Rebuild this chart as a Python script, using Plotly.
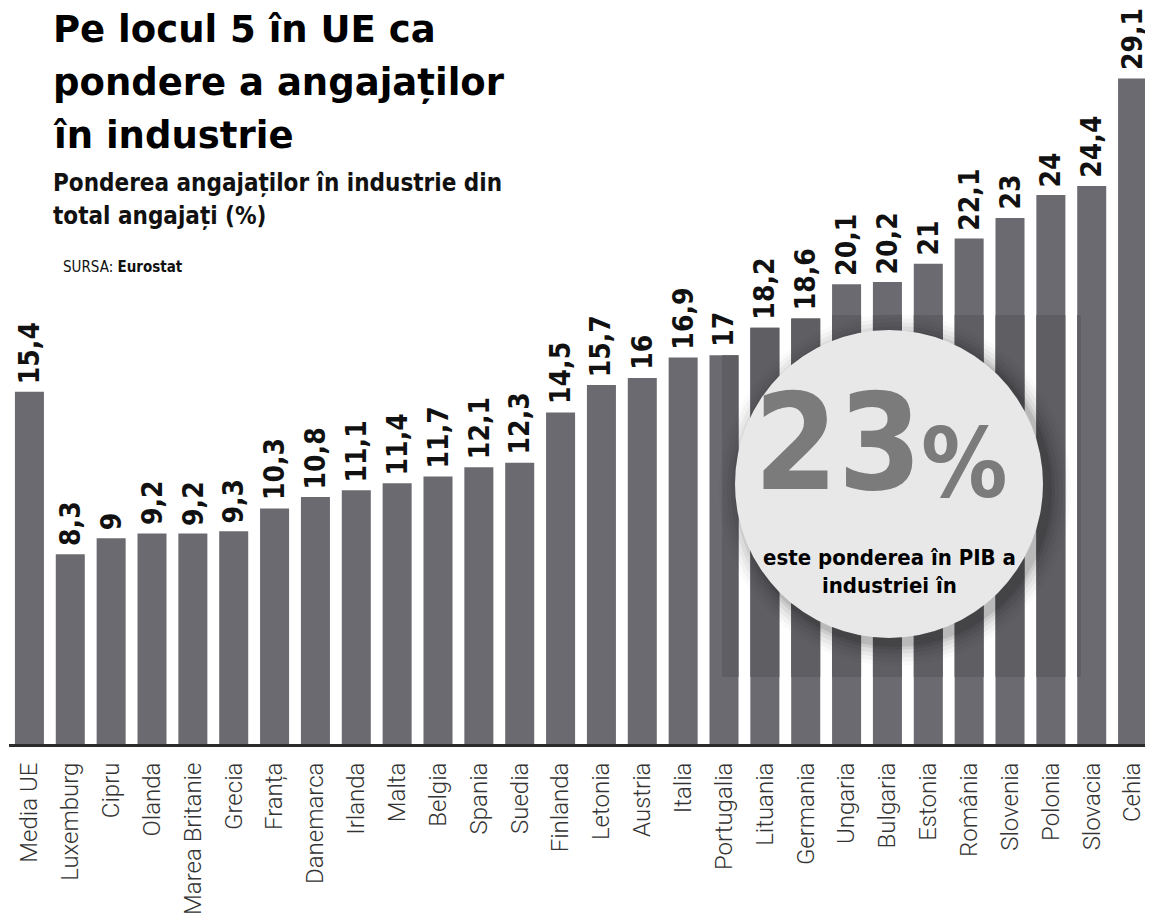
import plotly.graph_objects as go

countries = ["Media UE", "Luxemburg", "Cipru", "Olanda", "Marea Britanie", "Grecia", "Franța",
             "Danemarca", "Irlanda", "Malta", "Belgia", "Spania", "Suedia", "Finlanda", "Letonia",
             "Austria", "Italia", "Portugalia", "Lituania", "Germania", "Ungaria", "Bulgaria",
             "Estonia", "România", "Slovenia", "Polonia", "Slovacia", "Cehia"]
values = [15.4, 8.3, 9, 9.2, 9.2, 9.3, 10.3, 10.8, 11.1, 11.4, 11.7, 12.1, 12.3, 14.5, 15.7,
          16, 16.9, 17, 18.2, 18.6, 20.1, 20.2, 21, 22.1, 23, 24, 24.4, 29.1]
labels = [(f"{v:g}").replace(".", ",") for v in values]

OFF = 8  # page body margin
W, H = 1145, 913
ML, MR, MT, MB = 1, 0, 3, 177
PW, PH = W - ML - MR, H - MT - MB
PX_PER_UNIT = 22.87
YMAX = PH / PX_PER_UNIT
BARGAP = 0.29
N = len(countries)
STEP = PW / N


def px(x):
    return (x - OFF - ML) / PW


def py(y):
    return (H - MB - (y - OFF)) / PH


def page_to_cat(x):
    return (x - OFF - ML) / STEP - 0.5


def page_to_val(y):
    return (H - MB - (y - OFF)) / PX_PER_UNIT


BAR = "#6b6a70"
BAR_DARK = "#5f5e63"
COND = "DejaVu Sans Condensed, sans-serif"

fig = go.Figure(go.Bar(x=list(range(N)), y=values, marker=dict(color=BAR, line=dict(width=0)),
                       width=1 - BARGAP, hoverinfo="skip"))

# darker band behind the callout (only affects the bars)
bx0, bx1 = page_to_cat(722), page_to_cat(1081)
by0, by1 = page_to_val(677), page_to_val(315)
hw = (1 - BARGAP) / 2
ox, oy, obase, ow, ooff = [], [], [], [], []
for i, v in enumerate(values):
    a, b = max(i - hw, bx0), min(i + hw, bx1)
    top = min(v, by1)
    if b - a > 0.05 and top > by0:
        ox.append(i)
        obase.append(by0)
        oy.append(top - by0)
        ow.append(b - a)
        ooff.append(a - i)
fig.add_trace(go.Bar(x=ox, y=oy, base=obase, width=ow, offset=ooff,
                     marker=dict(color=BAR_DARK, line=dict(width=0)), hoverinfo="skip"))

ann = []
for i, (v, t) in enumerate(zip(values, labels)):
    ann.append(dict(x=i, y=v, xref="x", yref="y", text=t, textangle=-90, showarrow=False,
                    yanchor="bottom", xanchor="center", yshift=6,
                    font=dict(family=COND, size=28, color="#111", weight="bold")))

TITLE = dict(family="DejaVu Sans, sans-serif", size=37, color="#000", weight="bold")
for i, line in enumerate(["Pe locul 5 în UE ca", "pondere a angajaților", "în industrie"]):
    ann.append(dict(x=px(51), y=py(6 + i * 53), xref="paper", yref="paper", text=line,
                    showarrow=False, xanchor="left", yanchor="top", font=TITLE))
SUB = dict(family=COND, size=24, color="#111", weight="bold")
for i, line in enumerate(["Ponderea angajaților în industrie din", "total angajați (%)"]):
    ann.append(dict(x=px(51), y=py(167 + i * 33), xref="paper", yref="paper", text=line,
                    showarrow=False, xanchor="left", yanchor="top", font=SUB))
ann.append(dict(x=px(61), y=py(256), xref="paper", yref="paper",
                text="SURSA: <b>Eurostat</b>", showarrow=False, xanchor="left", yanchor="top",
                font=dict(family=COND, size=15, color="#111")))

# circle callout
CX, CY, R = 889, 484, 154
shapes = []
for k, op in [(22, 0.02), (18, 0.03), (14, 0.04), (10, 0.05), (6, 0.07), (3, 0.09)]:
    shapes.append(dict(type="circle", xref="paper", yref="paper", xsizemode="pixel",
                       ysizemode="pixel", xanchor=px(CX + 6), yanchor=py(CY + 6),
                       x0=-(R + k), x1=R + k, y0=-(R + k), y1=R + k,
                       fillcolor=f"rgba(0,0,0,{op})", line=dict(width=0), layer="above"))
shapes.append(dict(type="circle", xref="paper", yref="paper", xsizemode="pixel",
                   ysizemode="pixel", xanchor=px(CX), yanchor=py(CY),
                   x0=-R, x1=R, y0=-R, y1=R, fillcolor="#e8e8e8",
                   line=dict(width=0), layer="above"))

ann.append(dict(x=px(924), y=py(443), xref="paper", yref="paper", text="23", showarrow=False,
                xanchor="right", yanchor="middle",
                font=dict(family=COND, size=134, color="#7b7b7b", weight="bold")))
ann.append(dict(x=px(919), y=py(464), xref="paper", yref="paper", text="%", showarrow=False,
                xanchor="left", yanchor="middle",
                font=dict(family=COND, size=96, color="#7b7b7b", weight="bold")))
for i, line in enumerate(["este ponderea în PIB a", "industriei în"]):
    ann.append(dict(x=px(CX), y=py(557 + i * 28), xref="paper", yref="paper", text=line,
                    showarrow=False, xanchor="center", yanchor="middle",
                    font=dict(family=COND, size=22, color="#000", weight="bold")))

fig.update_layout(
    width=W, height=H, margin=dict(l=ML, r=MR, t=MT, b=MB),
    paper_bgcolor="white", plot_bgcolor="white", barmode="overlay", showlegend=False,
    annotations=ann, shapes=shapes,
    xaxis=dict(tickangle=-90, showline=True, linecolor="#2b2b2b", linewidth=3,
               ticks="", showgrid=False, ticklabelstandoff=6, range=[-0.5, N - 0.5],
               tickmode="array", tickvals=list(range(N)), ticktext=countries,
               tickfont=dict(family="Roboto, sans-serif", size=24, color="#333", weight=300)),
    yaxis=dict(range=[0, YMAX], visible=False, showgrid=False, zeroline=False),
)
fig.write_html("out.html")
